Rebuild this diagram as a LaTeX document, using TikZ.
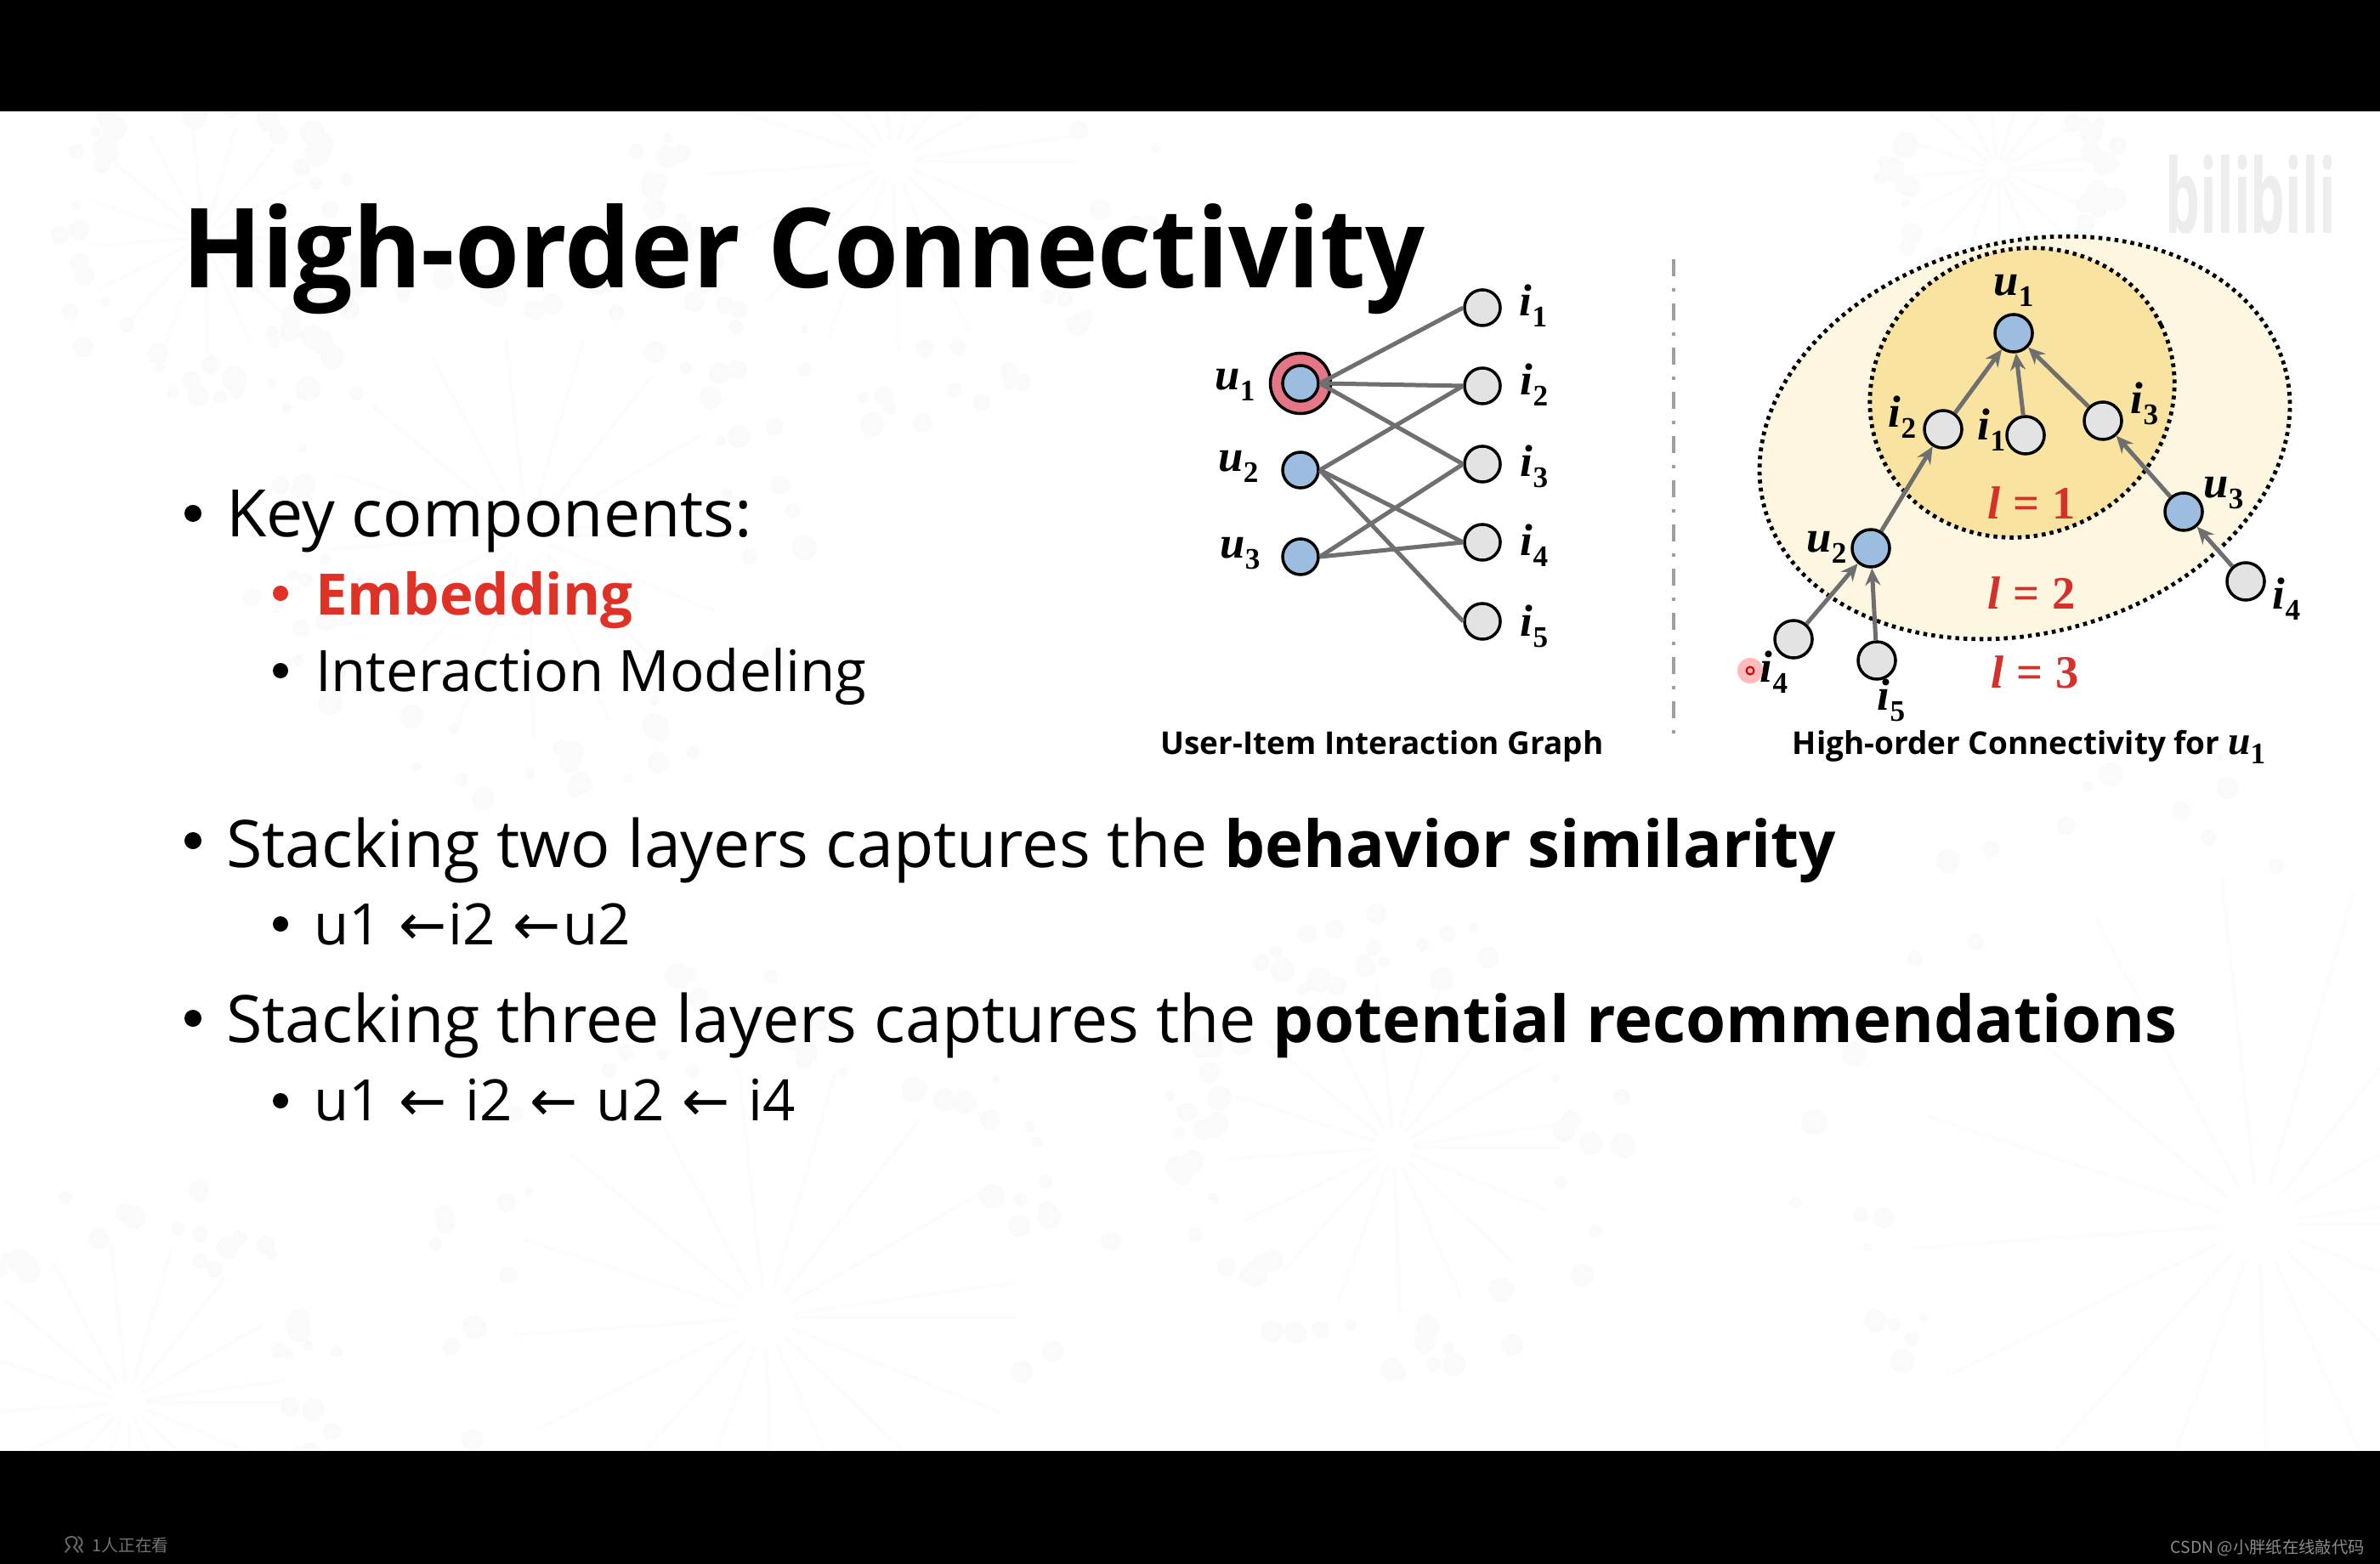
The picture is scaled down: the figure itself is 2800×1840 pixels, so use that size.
\documentclass[tikz,border=0pt]{standalone}
\usepackage{fontspec}
\usetikzlibrary{arrows.meta}
\setmainfont{Open Sans}
\newfontfamily\serifmath{Liberation Serif}
\newfontfamily\arrowfont{DejaVu Sans}
\newfontfamily\cjkfont{Noto Sans CJK SC}
\definecolor{nodeblue}{HTML}{9DBDE0}
\definecolor{nodegray}{HTML}{E3E3E3}
\definecolor{ringred}{HTML}{E57686}
\definecolor{edgegray}{HTML}{6F6F6F}
\definecolor{hopinner}{HTML}{F9E3A1}
\definecolor{hopouter}{HTML}{FDF6E1}
\definecolor{redtext}{HTML}{E03127}
\definecolor{hopred}{HTML}{D5302A}
\definecolor{motifdot}{HTML}{FAFAFA}
\definecolor{motifray}{HTML}{FCFCFC}
\newcommand{\mlab}[2]{{\serifmath\bfseries\itshape #1}\raisebox{-0.25em}{\serifmath\bfseries\fontsize{10}{10}\selectfont #2}}
\newcommand{\hoplab}[1]{{\serifmath\bfseries\itshape l}{\serifmath\bfseries\;=\;#1}}
\newcommand{\la}{{\arrowfont ←}}
\newcommand{\motif}[3]{%
  \foreach \a in {0,22,...,359}{
    \draw[motifray,line width=.04cm] (#1,#2) ++(\a:0.1*#3) -- ++(\a:0.75*#3);
  }
  \foreach \k in {1,...,70}{
    \pgfmathsetmacro{\ao}{360*rnd}
    \pgfmathsetmacro{\ro}{#3*(0.85+0.35*rnd)}
    \pgfmathsetmacro{\so}{5+10*rnd}
    \fill[motifdot] (#1,#2) ++(\ao:\ro) circle (\so);
  }
}
\tikzset{
  x=0.01cm,y=-0.01cm,
  txt/.style={anchor=base west,inner sep=0pt,outer sep=0pt},
  mtitle/.style={txt,font=\fontsize{37}{37}\selectfont\bfseries},
  body/.style={txt,font=\fontsize{21.93}{21.93}\selectfont},
  subbody/.style={txt,font=\fontsize{19.1}{19.1}\selectfont},
  captiontxt/.style={anchor=base,inner sep=0pt,font=\fontsize{10.5}{10.5}\selectfont\bfseries},
  dotmain/.style={circle,fill=black,draw=none,minimum size=.2cm,inner sep=0pt},
  dotsub/.style={circle,fill=black,draw=none,minimum size=.18cm,inner sep=0pt},
  usernode/.style={circle,draw=black,line width=.035cm,fill=nodeblue,minimum size=.42cm,inner sep=0pt},
  itemnode/.style={circle,draw=black,line width=.035cm,fill=nodegray,minimum size=.42cm,inner sep=0pt},
  graphedge/.style={edgegray,line width=.05cm},
  hoparrow/.style={edgegray,line width=.05cm,-{Stealth[length=.2cm,width=.18cm]}},
  maplab/.style={inner sep=0pt,font=\fontsize{15}{15}\selectfont},
  hoptxt/.style={inner sep=0pt,text=hopred,font=\fontsize{15.5}{15.5}\selectfont},
  hopring/.style={draw=black,line width=.048cm,dash pattern=on .045cm off .05cm},
  footertxt/.style={anchor=base west,inner sep=0pt},
}
\newcommand{\boldalt}[1]{{\fontsize{21.65}{21.65}\selectfont\bfseries #1}}
\begin{document}
\begin{tikzpicture}
\useasboundingbox (0,0) rectangle (2800,1840);
\fill[white] (0,0) rectangle (2800,1840);
% faint slide background
\pgfmathsetseed{4711}
\begin{scope}
\clip (0,131) rectangle (2800,1707);
\motif{2657}{1440}{480}
\motif{1640}{1350}{230}
\motif{900}{1550}{350}
\motif{620}{630}{280}
\motif{1050}{190}{260}
\motif{150}{1650}{220}
\motif{240}{280}{160}
\motif{2350}{200}{120}
\end{scope}
% black bars
\fill[black] (0,0) rectangle (2800,131);
\fill[black] (0,1707) rectangle (2800,1840);
% watermark
\node[anchor=base west,inner sep=0pt,text=black!7,font=\bfseries] (wm) at (2547,275) {\resizebox{2cm}{.92cm}{bilibili}};
% footer
\draw[black!60!white,line width=.02cm,line cap=round] (77,1826) -- (82,1820) .. controls (74,1812) and (78,1808) .. (84,1808) .. controls (91,1808) and (93,1814) .. (87,1820) -- (92,1826);
\draw[black!60!white,line width=.02cm,line cap=round] (92,1808) .. controls (98,1811) and (98,1818) .. (93,1820) -- (97,1826);
\node[footertxt,text=black!55!white,font=\fontsize{5.6}{5.6}\selectfont\cjkfont] (viewers) at (108,1825) {1人正在看};
\node[footertxt,text=black!45!white,font=\fontsize{5.5}{5.5}\selectfont\cjkfont] (csdn) at (2553,1827) {CSDN @小胖纸在线敲代码};
% title and text
\node[mtitle] (title) at (214,339) {\scalebox{0.945}[1]{High-order Connectivity}};
\node[dotmain] (b1) at (227,604) {};
\node[body] (t1) at (266,632) {Key components:};
\node[dotsub,fill=redtext] (b2) at (330,698) {};
\node[subbody,text=redtext,font=\fontsize{19.1}{19.1}\selectfont\bfseries] (t2) at (371,723) {Embedding};
\node[dotsub] (b3) at (330,789) {};
\node[subbody] (t3) at (371,814) {Interaction Modeling};
\node[dotmain] (b4) at (227,989) {};
\node[body] (t4) at (266,1020) {Stacking two layers captures the \boldalt{behavior similarity}};
\node[dotsub] (b5) at (330,1087) {};
\node[subbody] (t5) at (369,1111) {u1\hspace{1pt} \la\hspace{.5pt}i2\hspace{1pt} \la\hspace{.5pt}u2};
\node[dotmain] (b6) at (227,1198) {};
\node[body] (t6) at (266,1226) {Stacking three layers captures the \boldalt{potential recommendations}};
\node[dotsub] (b7) at (330,1295) {};
\node[subbody] (t7) at (369,1318) {u1\hspace{1pt} \la\hspace{1.2pt} i2\hspace{1pt} \la\hspace{1.2pt} u2\hspace{1pt} \la\hspace{1.2pt} i4};
% bipartite graph
\node[circle,draw=black,line width=.035cm,fill=ringred,minimum size=.71cm,inner sep=0pt] (ring) at (1530,451) {};
\node[usernode] (lu1) at (1530,451) {};
\node[usernode] (lu2) at (1530,553) {};
\node[usernode] (lu3) at (1530,655) {};
\node[itemnode] (li1) at (1744,362) {};
\node[itemnode] (li2) at (1744,454) {};
\node[itemnode] (li3) at (1744,546) {};
\node[itemnode] (li4) at (1744,638) {};
\node[itemnode] (li5) at (1744,731) {};
\draw[graphedge] (lu1.east) -- (li1.west);
\draw[graphedge] (lu1.east) -- (li2.west);
\draw[graphedge] (lu1.east) -- (li3.west);
\draw[graphedge] (lu2.east) -- (li2.west);
\draw[graphedge] (lu2.east) -- (li4.west);
\draw[graphedge] (lu2.east) -- (li5.west);
\draw[graphedge] (lu3.east) -- (li3.west);
\draw[graphedge] (lu3.east) -- (li4.west);
\node[maplab] (lab1) at (1453,453) {\mlab{u}{1}};
\node[maplab] (lab2) at (1457,549) {\mlab{u}{2}};
\node[maplab] (lab3) at (1459,651) {\mlab{u}{3}};
\node[maplab] (lab4) at (1804,360) {\mlab{i}{1}};
\node[maplab] (lab5) at (1805,453) {\mlab{i}{2}};
\node[maplab] (lab6) at (1805,549) {\mlab{i}{3}};
\node[maplab] (lab7) at (1805,642) {\mlab{i}{4}};
\node[maplab] (lab8) at (1805,737) {\mlab{i}{5}};
\node[captiontxt] (cap1) at (1626,887) {User-Item Interaction Graph};
% divider
\coordinate (divtop) at (1969,305);
\coordinate (divbot) at (1969,872);
\draw[black!38!white,line width=.04cm,dash pattern=on .2cm off .14cm on .04cm off .14cm] (divtop) -- (divbot);
% hop ellipses
\draw[hopring,fill=hopouter,rotate around={15:(2382,515)}] (2382,515) ellipse (317 and 230);
\draw[hopring,fill=hopinner,rotate around={26:(2379,462)}] (2379,462) ellipse (181.8 and 167.5);
% hop tree
\node[usernode,minimum size=.44cm] (ru1) at (2369,392) {};
\node[itemnode,minimum size=.44cm] (ri2) at (2286,505) {};
\node[itemnode,minimum size=.44cm] (ri1) at (2383,512) {};
\node[itemnode,minimum size=.44cm] (ri3) at (2474,495) {};
\node[usernode,minimum size=.44cm] (ru3) at (2569,602) {};
\node[usernode,minimum size=.44cm] (ru2) at (2201,645) {};
\node[itemnode,minimum size=.44cm] (ri4a) at (2110,752) {};
\node[itemnode,minimum size=.44cm] (ri5) at (2208,777) {};
\node[itemnode,minimum size=.44cm] (ri4b) at (2642,684) {};
\draw[hoparrow] (ri2) -- (ru1);
\draw[hoparrow] (ri1) -- (ru1);
\draw[hoparrow] (ri3) -- (ru1);
\draw[hoparrow] (ru2) -- (ri2);
\draw[hoparrow] (ru3) -- (ri3);
\draw[hoparrow] (ri4a) -- (ru2);
\draw[hoparrow] (ri5) -- (ru2);
\draw[hoparrow] (ri4b) -- (ru3);
\node[maplab] (rl1) at (2369,342) {\mlab{u}{1}};
\node[maplab] (rl2) at (2238,491) {\mlab{i}{2}};
\node[maplab] (rl3) at (2343,506) {\mlab{i}{1}};
\node[maplab] (rl4) at (2523,475) {\mlab{i}{3}};
\node[maplab] (rl5) at (2616,580) {\mlab{u}{3}};
\node[maplab] (rl6) at (2149,644) {\mlab{u}{2}};
\node[maplab] (rl7) at (2087,791) {\mlab{i}{4}};
\node[maplab] (rl8) at (2225,824) {\mlab{i}{5}};
\node[maplab] (rl9) at (2690,705) {\mlab{i}{4}};
\node[hoptxt] (h1) at (2390,592) {\hoplab{1}};
\node[hoptxt] (h2) at (2390,698) {\hoplab{2}};
\node[hoptxt] (h3) at (2394,791) {\hoplab{3}};
\node[captiontxt] (cap2) at (2387,887) {High-order Connectivity for {\fontsize{13.5}{13.5}\selectfont\mlab{u}{1}}};
% pointer
\node[circle,fill=red!45!white,opacity=.6,draw=none,minimum size=.3cm,inner sep=0pt] (ptrglow) at (2059,789) {};
\node[circle,draw=red!80!black,line width=.02cm,fill=white!70!red,minimum size=.09cm,inner sep=0pt] (ptr) at (2059,789) {};
\end{tikzpicture}
\end{document}
